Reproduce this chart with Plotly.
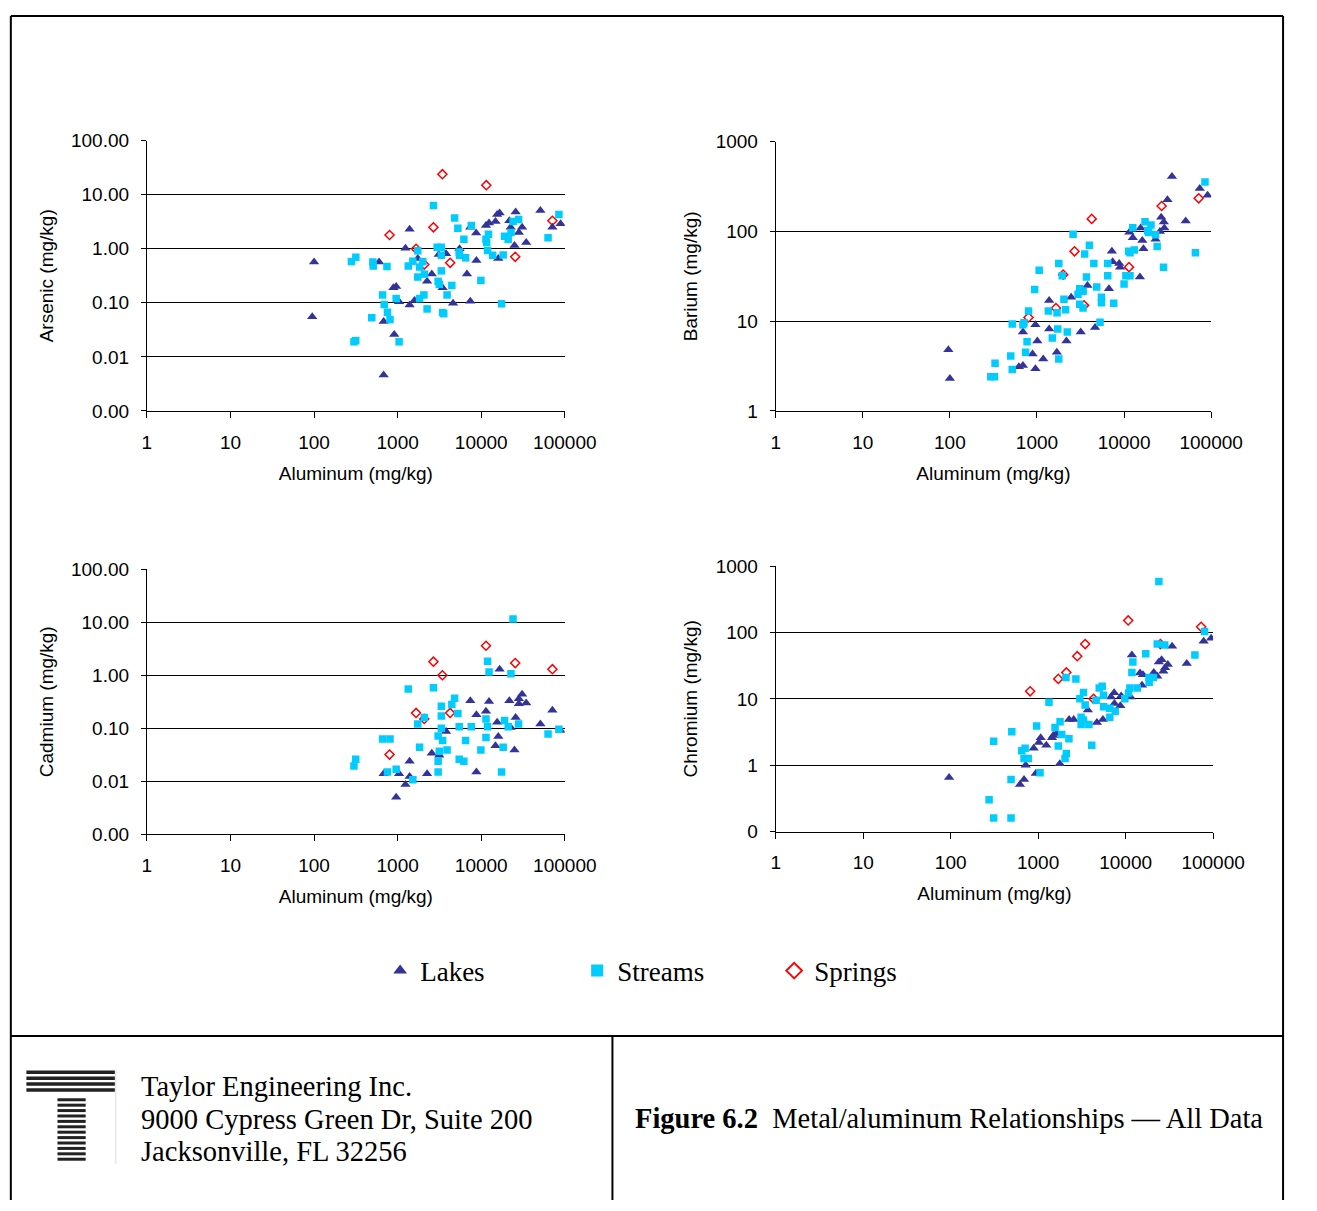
import plotly.graph_objects as go

W, H = 1317, 1211

# ---------------- data ----------------
x_tickvals = [1, 10, 100, 1000, 10000, 100000]
x_ticktext = ["1", "10", "100", "1000", "10000", "100000"]
y_tick_as = [0.001, 0.01, 0.1, 1, 10, 100]
y_text_as = ["0.00", "0.01", "0.10", "1.00", "10.00", "100.00"]
y_tick_ba = [1, 10, 100, 1000]
y_text_ba = ["1", "10", "100", "1000"]
y_tick_cr = [0.1, 1, 10, 100, 1000]
y_text_cr = ["0", "1", "10", "100", "1000"]

# Arsenic
as_lakes_al = [100, 95, 680, 680, 910, 600, 890, 960, 1040, 1390, 1240, 1390, 1590, 1740, 2250, 2560, 3100, 3800, 3450, 4600, 5500, 6750, 7400, 8700, 8750, 7400, 11400, 12400, 14800, 15500, 16600, 16000, 21700, 22500, 25800, 28200, 30800, 25000, 34500, 51000, 71000, 89000]
as_lakes_v = [0.57, 0.055, 0.0046, 0.045, 0.026, 0.57, 0.19, 0.2, 0.105, 2.3, 1.02, 0.091, 0.11, 0.66, 0.25, 0.34, 0.78, 0.81, 0.19, 0.098, 1.0, 0.34, 0.107, 1.95, 0.61, 2.5, 2.7, 3.0, 3.2, 4.3, 4.6, 0.66, 3.3, 2.5, 4.8, 2.0, 2.5, 1.15, 1.3, 5.1, 2.5, 2.9]
as_streams_al = [300, 315, 280, 316, 490, 505, 510, 745, 660, 690, 755, 810, 1040, 960, 1340, 1520, 1740, 1740, 1830, 2000, 2090, 1830, 2060, 2250, 2680, 2970, 3330, 3330, 3330, 3050, 3150, 3450, 3560, 3900, 4450, 4800, 5250, 5450, 5500, 6200, 6500, 7600, 9900, 11400, 11600, 12200, 11900, 13700, 17500, 18300, 19000, 21000, 22700, 24000, 28000, 63000, 85000]
as_streams_v = [0.019, 0.02, 0.58, 0.7, 0.053, 0.57, 0.48, 0.47, 0.14, 0.093, 0.067, 0.049, 0.019, 0.12, 0.48, 0.59, 0.92, 0.30, 0.46, 0.58, 0.34, 0.12, 0.14, 0.077, 6.3, 1.07, 1.07, 0.76, 0.39, 0.25, 0.22, 0.066, 0.063, 0.14, 0.21, 3.7, 2.4, 0.87, 0.76, 1.5, 0.68, 2.7, 0.26, 1.5, 1.3, 1.85, 0.93, 0.76, 0.096, 0.77, 1.7, 1.5, 2.0, 3.2, 3.5, 1.6, 4.3]
as_springs_al = [3430, 11500, 2680, 800, 71000, 1660, 4250, 2080, 25500]
as_springs_v = [24, 15, 2.5, 1.8, 3.3, 1.0, 0.55, 0.51, 0.71]

# Barium
ba_lakes_al = [96, 100, 620, 690, 690, 890, 960, 1010, 960, 1180, 1380, 1380, 1690, 2180, 2470, 3180, 3800, 4650, 6700, 7250, 7400, 8800, 9000, 15200, 11500, 12600, 15500, 16200, 16700, 23000, 25800, 26700, 28600, 29000, 31500, 35500, 51000, 74000, 91000]
ba_lakes_v = [4.8, 2.3, 3.1, 3.2, 7.6, 4.3, 9.1, 6.0, 2.95, 3.8, 17, 8.2, 4.5, 6.0, 18.5, 7.6, 25, 8.5, 23, 60, 46, 44, 40, 31, 98, 85, 109, 79, 64, 82, 100, 144, 127, 109, 225, 410, 131, 300, 253]
ba_streams_al = [295, 325, 330, 500, 520, 520, 690, 710, 740, 770, 800, 940, 1060, 1350, 1700, 1730, 1500, 1780, 1780, 1950, 2040, 2130, 2230, 2600, 2960, 3100, 3390, 3100, 3380, 3530, 3700, 4000, 4500, 4850, 5300, 5500, 5500, 6500, 6500, 7600, 10000, 10500, 11700, 11300, 11700, 13100, 12600, 17400, 18700, 20400, 19200, 23000, 24000, 28400, 66000, 85000]
ba_streams_v = [2.4, 2.4, 3.4, 4.1, 2.9, 9.3, 9.1, 9.6, 4.5, 5.9, 13, 22.5, 37, 13, 12.4, 8.2, 6.5, 3.8, 44, 32, 17.6, 13.4, 7.6, 93, 20, 23, 21.5, 15.4, 14, 56, 31, 70, 44, 24, 9.7, 18.5, 16, 44, 32, 15.8, 26, 32, 32, 60, 58, 62, 110, 128, 102, 118, 97, 92, 68, 40, 58, 355]
ba_springs_al = [4250, 2700, 2000, 1650, 3470, 800, 11400, 27000, 72000]
ba_springs_v = [138, 60, 33, 14, 15, 11, 40, 192, 234]

# Cadmium
cd_lakes_al = [680, 960, 1040, 1240, 1390, 1390, 2250, 2560, 3150, 3800, 7400, 8750, 8750, 11400, 12400, 15500, 14800, 16000, 16600, 21700, 22500, 25800, 25000, 28200, 28200, 30800, 34500, 51000, 71000, 89000]
cd_lakes_v = [0.014, 0.005, 0.014, 0.0087, 0.0124, 0.024, 0.014, 0.034, 0.031, 0.087, 0.33, 0.18, 0.015, 0.21, 0.32, 0.13, 0.047, 0.070, 1.3, 0.33, 0.104, 0.16, 0.039, 0.36, 0.29, 0.44, 0.30, 0.12, 0.22, 0.091]
cd_streams_al = [300, 315, 660, 810, 755, 960, 1520, 1340, 1740, 1830, 2090, 2680, 3050, 3150, 3050, 3050, 3330, 3330, 3330, 3450, 3900, 4450, 4800, 5250, 5450, 5450, 6200, 6500, 7600, 9900, 11400, 11900, 11400, 11900, 12400, 17500, 18300, 19000, 21000, 22700, 24000, 28000, 63000, 85000]
cd_streams_v = [0.0195, 0.026, 0.063, 0.063, 0.015, 0.017, 0.0107, 0.55, 0.12, 0.044, 0.16, 0.58, 0.072, 0.037, 0.024, 0.015, 0.26, 0.17, 0.10, 0.059, 0.039, 0.28, 0.37, 0.19, 0.107, 0.026, 0.024, 0.059, 0.107, 0.039, 0.15, 0.107, 0.067, 1.84, 1.15, 0.015, 0.044, 0.14, 0.107, 1.07, 11.5, 0.12, 0.078, 0.096]
cd_springs_al = [11400, 2680, 3430, 25500, 71000, 1660, 4250, 2080, 800]
cd_springs_v = [3.6, 1.8, 1.0, 1.7, 1.3, 0.195, 0.195, 0.15, 0.032]

# Chromium
cr_lakes_al = [96, 620, 690, 720, 940, 890, 1020, 1070, 1240, 1440, 1490, 1620, 1770, 2260, 2550, 3700, 4700, 5500, 6800, 7400, 7450, 8700, 8900, 11400, 11800, 14600, 15400, 15800, 21000, 23000, 24000, 25800, 27000, 28300, 30400, 34000, 50000, 78000, 95000]
cr_lakes_v = [0.65, 0.51, 0.61, 1.0, 0.75, 1.8, 2.2, 2.6, 2.0, 2.6, 2.8, 3.0, 1.05, 4.9, 4.9, 6.8, 4.4, 4.9, 10.7, 12.4, 8.5, 7.9, 11, 10.7, 46, 24.5, 16, 23, 25, 22, 36, 39, 26, 29.5, 33, 62, 34, 74, 82]
cr_streams_al = [310, 490, 275, 310, 490, 500, 650, 710, 690, 770, 1050, 960, 1330, 1560, 1780, 1860, 1700, 2100, 2030, 2250, 2080, 2700, 3000, 3300, 3450, 3100, 3300, 3100, 3800, 4100, 4600, 5000, 5400, 5600, 5600, 6600, 6600, 7600, 9800, 10800, 11200, 13600, 11800, 12100, 17000, 18600, 18500, 20800, 23000, 28000, 24000, 62000, 80000]
cr_streams_v = [0.16, 0.16, 0.30, 2.3, 0.61, 3.2, 1.65, 1.8, 1.26, 1.26, 0.77, 3.9, 8.9, 3.7, 4.5, 2.9, 1.95, 1.5, 1.26, 2.5, 21, 20, 10, 12.5, 8.1, 5.3, 4.8, 4.1, 4.1, 2.0, 9.5, 14.6, 15.5, 11.3, 7.6, 7.2, 5.3, 6.5, 10, 12.3, 14.6, 14.6, 25, 36, 48, 17.8, 21, 21, 67, 65, 590, 46, 104]
cr_springs_al = [10700, 3450, 2800, 2100, 1700, 810, 73000, 25000, 4300]
cr_springs_v = [152, 67, 44, 25, 20, 13, 122, 67, 10]

series_names = ["Lakes", "Streams", "Springs"]

# ---------------- helpers ----------------
def px_x(p):
    return p / W

def px_y(p):
    return 1 - p / H

SANS = "Liberation Sans"
SERIF = "Liberation Serif"
LAKE_C = "#333399"
STREAM_C = "#00CCFF"
SPRING_C = "#FF0000"

fig = go.Figure()

panels = [
    dict(ax="", lakes=(as_lakes_al, as_lakes_v), streams=(as_streams_al, as_streams_v),
         springs=(as_springs_al, as_springs_v), title="Arsenic (mg/kg)",
         yt=(y_tick_as, y_text_as), yr=[-3, 2], dom_x=(146, 576), dom_y=(133, 408)),
    dict(ax="2", lakes=(ba_lakes_al, ba_lakes_v), streams=(ba_streams_al, ba_streams_v),
         springs=(ba_springs_al, ba_springs_v), title="Barium (mg/kg)",
         yt=(y_tick_ba, y_text_ba), yr=[0, 3], dom_x=(793, 1241), dom_y=(134, 408)),
    dict(ax="3", lakes=(cd_lakes_al, cd_lakes_v), streams=(cd_streams_al, cd_streams_v),
         springs=(cd_springs_al, cd_springs_v), title="Cadmium (mg/kg)",
         yt=(y_tick_as, y_text_as), yr=[-3, 2], dom_x=(146, 576), dom_y=(569, 839)),
    dict(ax="4", lakes=(cr_lakes_al, cr_lakes_v), streams=(cr_streams_al, cr_streams_v),
         springs=(cr_springs_al, cr_springs_v), title="Chromium (mg/kg)",
         yt=(y_tick_cr, y_text_cr), yr=[-1, 3], dom_x=(793, 1243), dom_y=(566, 836)),
]

layout_axes = {}
for i, p in enumerate(panels):
    a = p["ax"]
    xa, ya = "x" + a, "y" + a
    first = i == 0
    # springs drawn first (underneath), then lakes, then streams
    fig.add_trace(go.Scatter(
        x=p["springs"][0], y=p["springs"][1], mode="markers", name=series_names[2],
        xaxis=xa, yaxis=ya, showlegend=first, legendrank=3,
        marker=dict(symbol="diamond-open", size=7, color=SPRING_C, line=dict(width=1.5, color=SPRING_C))))
    fig.add_trace(go.Scatter(
        x=p["lakes"][0], y=p["lakes"][1], mode="markers", name=series_names[0],
        xaxis=xa, yaxis=ya, showlegend=first, legendrank=1,
        marker=dict(symbol="triangle-up", size=9, color=LAKE_C, line=dict(width=0))))
    fig.add_trace(go.Scatter(
        x=p["streams"][0], y=p["streams"][1], mode="markers", name=series_names[1],
        xaxis=xa, yaxis=ya, showlegend=first, legendrank=2,
        marker=dict(symbol="square", size=7.5, color=STREAM_C, line=dict(width=0))))

    tickfont = dict(family=SANS, size=19, color="black")
    layout_axes["xaxis" + a] = dict(
        type="log", range=[0, 5], domain=[px_x(p["dom_x"][0]), px_x(p["dom_x"][1])],
        anchor=ya, tickvals=x_tickvals, ticktext=x_ticktext, ticks="outside", ticklen=6,
        tickcolor="black", tickwidth=1, showline=True, linecolor="black", linewidth=1,
        showgrid=False, zeroline=False, tickfont=tickfont, ticklabelstandoff=8,
        title=dict(text="Aluminum (mg/kg)", font=dict(family=SANS, size=19, color="black"), standoff=14),
    )
    layout_axes["yaxis" + a] = dict(
        type="log", range=p["yr"], domain=[px_y(p["dom_y"][1]), px_y(p["dom_y"][0])],
        anchor=xa, tickvals=p["yt"][0], ticktext=p["yt"][1], ticks="outside", ticklen=5,
        tickcolor="black", tickwidth=1, showline=True, linecolor="black", linewidth=1,
        showgrid=True, gridcolor="black", gridwidth=1, zeroline=False, tickfont=tickfont,
        ticklabelstandoff=8,
        title=dict(text=p["title"], font=dict(family=SANS, size=19, color="black"), standoff=12),
    )

# ---------------- frame / footer shapes ----------------
shapes = []
def line(x0, y0, x1, y1, w=2, color="black"):
    shapes.append(dict(type="line", xref="paper", yref="paper",
                       x0=px_x(x0), y0=px_y(y0), x1=px_x(x1), y1=px_y(y1),
                       line=dict(color=color, width=w)))

line(6, 6, 1315, 6)            # top border
line(6, 6, 6, 1211)            # left border
line(1315, 6, 1315, 1211)      # right border
line(6, 1044, 1315, 1044)      # footer separator
line(625, 1044, 625, 1211)     # footer divider

# logo: striped "T"
for yy in [1081, 1087, 1093, 1099]:
    line(22, yy, 113, yy, w=3.5, color="#222222")
for k in range(12):
    yy = 1109 + k * 5.5
    line(54, yy, 83, yy, w=3, color="#222222")
line(114, 1079, 114, 1174, w=1, color="#dddddd")

annotations = [
    dict(text="Taylor Engineering Inc.", x=px_x(138), y=px_y(1096)),
    dict(text="9000 Cypress Green Dr, Suite 200", x=px_x(138), y=px_y(1129)),
    dict(text="Jacksonville, FL 32256", x=px_x(138), y=px_y(1162)),
    dict(text="<b>Figure 6.2</b>\u00a0\u00a0Metal/aluminum Relationships \u2014 All Data",
         x=px_x(646), y=px_y(1128)),
]
for an in annotations:
    an.update(xref="paper", yref="paper", xanchor="left", yanchor="middle", showarrow=False,
              font=dict(family=SERIF, size=28.5, color="black"))

fig.update_layout(
    width=W, height=H, margin=dict(l=0, r=0, t=0, b=0),
    paper_bgcolor="white", plot_bgcolor="white",
    showlegend=True,
    legend=dict(orientation="h", x=px_x(386), y=px_y(978), xanchor="left", yanchor="middle",
                font=dict(family=SERIF, size=27, color="black"),
                entrywidth=152, entrywidthmode="pixels", bgcolor="rgba(0,0,0,0)",
                itemsizing="constant"),
    shapes=shapes, annotations=annotations,
    **layout_axes,
)

fig.write_html("out.html")
